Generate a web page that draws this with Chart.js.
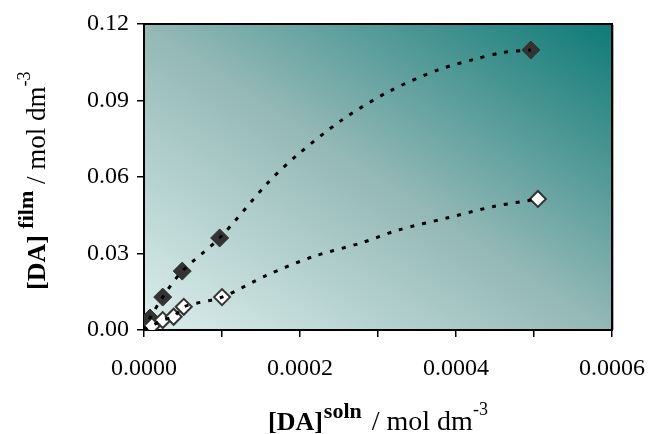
<!DOCTYPE html>
<html>
<head>
<meta charset="utf-8">
<script src="https://cdn.jsdelivr.net/npm/chart.js@4"></script>
<style>
  body { margin: 0; background: #fff; }
</style>
</head>
<body>
<canvas id="chart" width="648" height="434"></canvas>
<script>
// filled diamonds
const filledX = [0, 0.0000077, 0.000024, 0.000049, 0.000097, 0.000496];
const filledY = [0, 0.0047, 0.0129, 0.0231, 0.0361, 0.1098];
// hollow diamonds
const hollowX = [0, 0.000010, 0.000024, 0.000038, 0.000051, 0.000100, 0.000505];
const hollowY = [0, 0.0016, 0.0039, 0.0052, 0.0091, 0.0129, 0.0514];

// dotted trend curves
const upperTrendX = [0, 0.0000077, 0.000024, 0.000049, 0.000097, 0.000159, 0.000196,
  0.000254, 0.000315, 0.000377, 0.000424, 0.000460, 0.000496];
const upperTrendY = [0, 0.0047, 0.0129, 0.0231, 0.0361, 0.0578, 0.0685,
  0.0824, 0.0937, 0.1020, 0.1062, 0.1088, 0.1098];
const lowerTrendX = [0, 0.000010, 0.000024, 0.000038, 0.000051, 0.000100, 0.000157,
  0.000217, 0.000279, 0.000326, 0.000388, 0.000448, 0.000505];
const lowerTrendY = [0, 0.0016, 0.0039, 0.0052, 0.0091, 0.0129, 0.0214,
  0.0288, 0.0342, 0.0392, 0.0439, 0.0484, 0.0514];

const xTicks = [0, 0.0002, 0.0004, 0.0006];
const yTicks = [0, 0.03, 0.06, 0.09, 0.12];

const pts = (xs, ys) => xs.map((x, i) => ({ x: x, y: ys[i] }));

const serif = '"Liberation Serif", "Times New Roman", serif';

// gradient background + frame of the plot area
const plotBackground = {
  id: 'plotBackground',
  beforeDraw(chart) {
    const { ctx, chartArea: a } = chart;
    const cx = (a.left + a.right) / 2, cy = (a.top + a.bottom) / 2;
    const w = a.right - a.left, h = a.bottom - a.top;
    const len = Math.hypot(w, h);
    const ux = h / len, uy = -w / len;
    const k = (w / 2 * h + h / 2 * w) / len;
    const g = ctx.createLinearGradient(cx - k * ux, cy - k * uy, cx + k * ux, cy + k * uy);
    g.addColorStop(0, '#dbeeec');
    g.addColorStop(0.5, '#93b8b6');
    g.addColorStop(1, '#0e7a77');
    ctx.save();
    ctx.fillStyle = g;
    ctx.fillRect(a.left, a.top, w, h);
    ctx.restore();
  },
  beforeDatasetsDraw(chart) {
    const { ctx, chartArea: a } = chart;
    ctx.save();
    ctx.strokeStyle = '#b0b0b0';
    ctx.lineWidth = 1;
    ctx.beginPath();
    ctx.moveTo(a.right + 1.5, a.top + 1);
    ctx.lineTo(a.right + 1.5, a.bottom);
    ctx.stroke();
    ctx.strokeStyle = '#000';
    ctx.lineWidth = 2;
    ctx.strokeRect(a.left, a.top, a.right - a.left, a.bottom - a.top);
    ctx.restore();
  }
};

// draw text runs (normal / bold / superscript) one after another
function drawRuns(ctx, runs, x, y) {
  let cx = x;
  runs.forEach(r => {
    ctx.font = (r.bold ? 'bold ' : '') + r.size + 'px ' + serif;
    ctx.fillText(r.text, cx, y - (r.rise || 0));
    cx += ctx.measureText(r.text).width + (r.gap || 0);
  });
}

const axisTitles = {
  id: 'axisTitles',
  afterDraw(chart) {
    const ctx = chart.ctx;
    ctx.save();
    ctx.fillStyle = '#000';
    ctx.textBaseline = 'alphabetic';
    drawRuns(ctx, [
      { text: '[DA]', size: 26, bold: true, gap: 1 },
      { text: 'soln', size: 22, bold: true, rise: 12, gap: 3 },
      { text: ' / mol dm', size: 28 },
      { text: '-3', size: 18, rise: 15 }
    ], 268, 430);
    ctx.translate(45, 290);
    ctx.rotate(-Math.PI / 2);
    drawRuns(ctx, [
      { text: '[DA] ', size: 26, bold: true },
      { text: 'film', size: 22, bold: true, rise: 12 },
      { text: ' / mol dm', size: 27 },
      { text: '-3', size: 18, rise: 15 }
    ], 0, 0);
    ctx.restore();
  }
};

new Chart(document.getElementById('chart'), {
  type: 'scatter',
  data: {
    datasets: [
      {
        data: pts(upperTrendX, upperTrendY), showLine: true, pointRadius: 0,
        borderColor: '#000', borderWidth: 3, borderDash: [4, 8], tension: 0.3
      },
      {
        data: pts(lowerTrendX, lowerTrendY), showLine: true, pointRadius: 0,
        borderColor: '#000', borderWidth: 3, borderDash: [4, 8], tension: 0.3
      },
      {
        data: pts(hollowX, hollowY), pointStyle: 'rectRot', pointRadius: 8,
        backgroundColor: '#fff', borderColor: '#333', borderWidth: 2
      },
      {
        data: pts(filledX, filledY), pointStyle: 'rectRot', pointRadius: 9,
        backgroundColor: '#333', borderColor: '#333', borderWidth: 1
      }
    ]
  },
  options: {
    responsive: false,
    animation: false,
    layout: { padding: { top: 24, right: 36, left: 0, bottom: 0 } },
    plugins: { legend: { display: false }, tooltip: { enabled: false } },
    scales: {
      x: {
        type: 'linear', min: 0, max: 0.0006,
        afterFit: s => { s.height = 104; s.paddingLeft = 0; s.paddingRight = 0; },
        afterBuildTicks: s => {
          const t = [];
          for (let i = 0; i <= 6; i++) t.push({ value: i * 0.0001 });
          s.ticks = t;
        },
        grid: { drawOnChartArea: false, tickLength: 7, color: '#000', lineWidth: 1.5 },
        border: { color: '#000', width: 2 },
        ticks: {
          color: '#000', padding: 17, maxRotation: 0, autoSkip: false,
          font: { family: serif, size: 24 },
          callback: v => {
            const hit = xTicks.find(t => Math.abs(t - v) < 1e-9);
            return hit === undefined ? '' : hit.toFixed(4);
          }
        }
      },
      y: {
        type: 'linear', min: 0, max: 0.12,
        afterFit: s => { s.width = 144; s.paddingTop = 0; s.paddingBottom = 0; },
        afterBuildTicks: s => { s.ticks = yTicks.map(v => ({ value: v })); },
        grid: { drawOnChartArea: false, tickLength: 7, color: '#000', lineWidth: 1.5 },
        border: { color: '#000', width: 2 },
        ticks: {
          color: '#000', padding: 8,
          font: { family: serif, size: 24 },
          callback: v => v.toFixed(2)
        }
      }
    }
  },
  plugins: [plotBackground, axisTitles]
});
</script>
</body>
</html>
